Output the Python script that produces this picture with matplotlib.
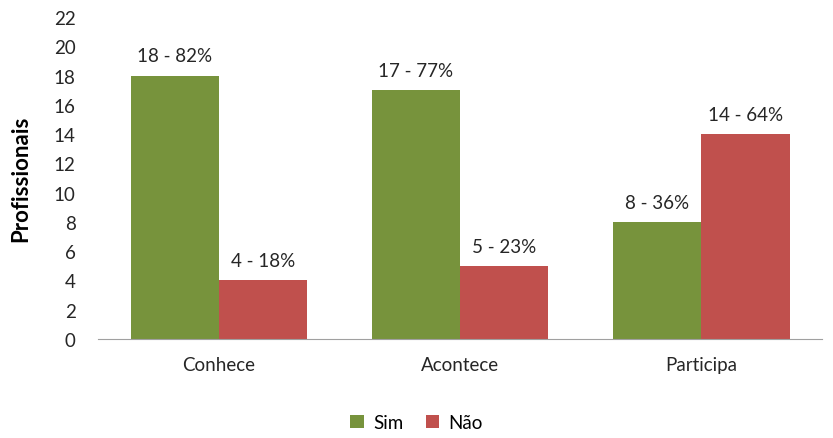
import matplotlib
matplotlib.use("Agg")
import matplotlib.pyplot as plt
import numpy as np

categories = ["Conhece", "Acontece", "Participa"]
sim = [18, 17, 8]
nao = [4, 5, 14]
sim_labels = ["18 - 82%", "17 - 77%", "8 - 36%"]
nao_labels = ["4 - 18%", "5 - 23%", "14 - 64%"]
yticks = list(range(0, 23, 2))

plt.rcParams['font.family'] = ['Lato', 'DejaVu Sans']

fig = plt.figure(figsize=(8.33, 4.39), dpi=100)
ax = fig.add_axes([0.1176, 0.2255, 0.8694, 0.7335])

x = np.arange(len(categories))
w = 0.365
green = "#77933C"
red = "#C0504D"
b1 = ax.bar(x - w/2, sim, w, color=green, label="Sim")
b2 = ax.bar(x + w/2, nao, w, color=red, label="Não")

fs = 13.5
for rect, lab in zip(list(b1) + list(b2), sim_labels + nao_labels):
    ax.annotate(lab, (rect.get_x() + rect.get_width()/2, rect.get_height()),
                xytext=(0, 8), textcoords="offset points", ha="center", va="bottom",
                fontsize=fs, color="#262626")

ax.set_xlim(-0.5, 2.5)
ax.set_ylim(0, 22)
ax.set_yticks(yticks)
ax.set_xticks(x)
ax.set_xticklabels(categories)
ax.tick_params(axis="both", length=0, labelsize=fs, colors="#262626")
ax.tick_params(axis="y", pad=16)
ax.tick_params(axis="x", pad=12)
for s in ["top", "right", "left"]:
    ax.spines[s].set_visible(False)
ax.spines["bottom"].set_color("#A0A0A0")
ax.set_ylabel("Profissionais", fontsize=16, fontweight="bold", labelpad=16)

fig.legend(handles=[b1, b2], labels=["Sim", "Não"], loc="center", bbox_to_anchor=(0.5, 0.035),
           ncol=2, frameon=False, fontsize=fs, handlelength=0.7, handleheight=0.7,
           columnspacing=1.2, handletextpad=0.5)

fig.savefig("out.png", dpi=100)
